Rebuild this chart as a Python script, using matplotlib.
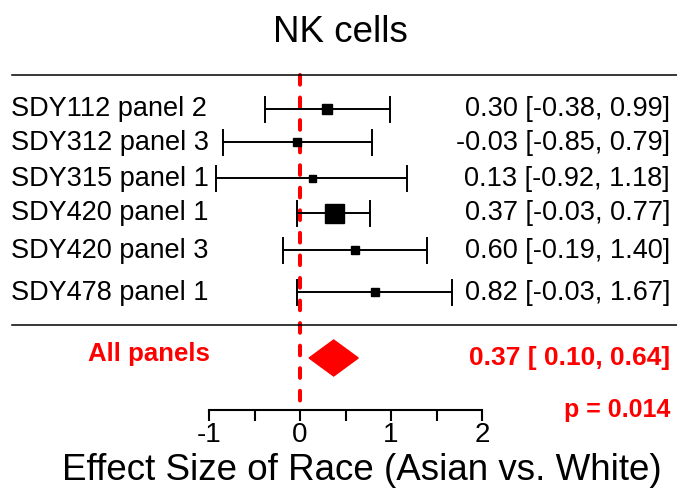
import matplotlib
matplotlib.use("Agg")
import matplotlib.pyplot as plt
from matplotlib.patches import Polygon

plt.rcParams['font.family'] = ['Liberation Sans', 'DejaVu Sans']

# ---- data ----
studies = ["SDY112 panel 2", "SDY312 panel 3", "SDY315 panel 1",
           "SDY420 panel 1", "SDY420 panel 3", "SDY478 panel 1"]
est = [0.30, -0.03, 0.13, 0.37, 0.60, 0.82]
lower = [-0.38, -0.85, -0.92, -0.03, -0.19, -0.03]
upper = [0.99, 0.79, 1.18, 0.77, 1.40, 1.67]
weight_px = [10, 8, 7, 19, 8, 8]   # square marker size (px)

summary_label = "All panels"
summary_est = 0.37
summary_lo = 0.10
summary_hi = 0.64
p_value = 0.014

title = "NK cells"
xlabel = "Effect Size of Race (Asian vs. White)"
xticks = [-1, 0, 1, 2]
minor_ticks = [-0.5, 0.5, 1.5]

# ---- layout (pixel rows) ----
W, H = 677, 493
row_y = [109, 142, 178, 213, 250, 292]
sum_y = 358
axis_y = 410
top_line_y = 75
sep_line_y = 325
px_per_unit = 91.0
x0_px = 209  # pixel for x=-1

fig = plt.figure(figsize=(W / 100, H / 100), dpi=100)
ax = fig.add_axes([x0_px / W, (H - axis_y) / H, 3 * px_per_unit / W, axis_y / H])
ax.set_xlim(-1, 2)
ax.set_ylim(axis_y, 0)
for s in ["top", "left", "right"]:
    ax.spines[s].set_visible(False)
ax.spines["bottom"].set_linewidth(1.5)
ax.set_yticks([])
ax.set_xticks(xticks)
ax.set_xticklabels([str(t) for t in xticks], fontsize=20)
ax.set_xticks(minor_ticks, minor=True)
ax.tick_params(axis="x", which="both", direction="out", length=8, width=1.5, pad=1)
ax.patch.set_alpha(0)

def px2x(px):
    return -1 + (px - x0_px) / px_per_unit

# horizontal rules
for yy in [top_line_y, sep_line_y]:
    ax.plot([px2x(12), px2x(677)], [yy, yy], color="black", lw=1.1, clip_on=False)

# red dashed zero line
ax.plot([0, 0], [top_line_y, axis_y], color="red", lw=2.9, linestyle=(0, (2.4, 3.2)),
        dash_capstyle="round", clip_on=False, zorder=1)

# study rows
cap_half = 12.5
for name, e, lo, hi, w, y in zip(studies, est, lower, upper, weight_px, row_y):
    ax.plot([lo, hi], [y, y], color="black", lw=1.4, clip_on=False, zorder=2)
    ax.plot([lo, lo], [y - cap_half, y + cap_half], color="black", lw=1.4, clip_on=False, zorder=2)
    ax.plot([hi, hi], [y - cap_half, y + cap_half], color="black", lw=1.4, clip_on=False, zorder=2)
    ax.plot([e], [y], marker="s", color="black", markersize=w * 0.72, linestyle="none",
            clip_on=False, zorder=3)
    ax.text(px2x(11), y + 0.5, name, ha="left", va="center", fontsize=19.5)
    ax.text(px2x(670), y + 0.5, f"{e:.2f} [{lo:5.2f}, {hi:.2f}]", ha="right", va="center",
            fontsize=19.5)

# summary diamond
dh = 18
diamond = Polygon([[summary_lo, sum_y], [summary_est, sum_y - dh],
                   [summary_hi, sum_y], [summary_est, sum_y + dh]],
                  closed=True, facecolor="red", edgecolor="red", clip_on=False, zorder=3)
ax.add_patch(diamond)
ax.text(px2x(149), sum_y - 3.5, summary_label, ha="center", va="center", fontsize=18.6,
        color="red", fontweight="bold")
ax.text(px2x(670), sum_y, f"{summary_est:.2f} [{summary_lo:5.2f}, {summary_hi:.2f}]",
        ha="right", va="center", fontsize=19, color="red", fontweight="bold")
ax.text(px2x(670), 410, f"p = {p_value:.3f}", ha="right", va="center", fontsize=18,
        color="red", fontweight="bold")

# title and x label
fig.text(340 / W, 1 - 32 / H, title, ha="center", va="center", fontsize=26.5)
fig.text(362 / W, 1 - 471 / H, xlabel, ha="center", va="center", fontsize=26.5)

fig.savefig("out.png", dpi=100)
